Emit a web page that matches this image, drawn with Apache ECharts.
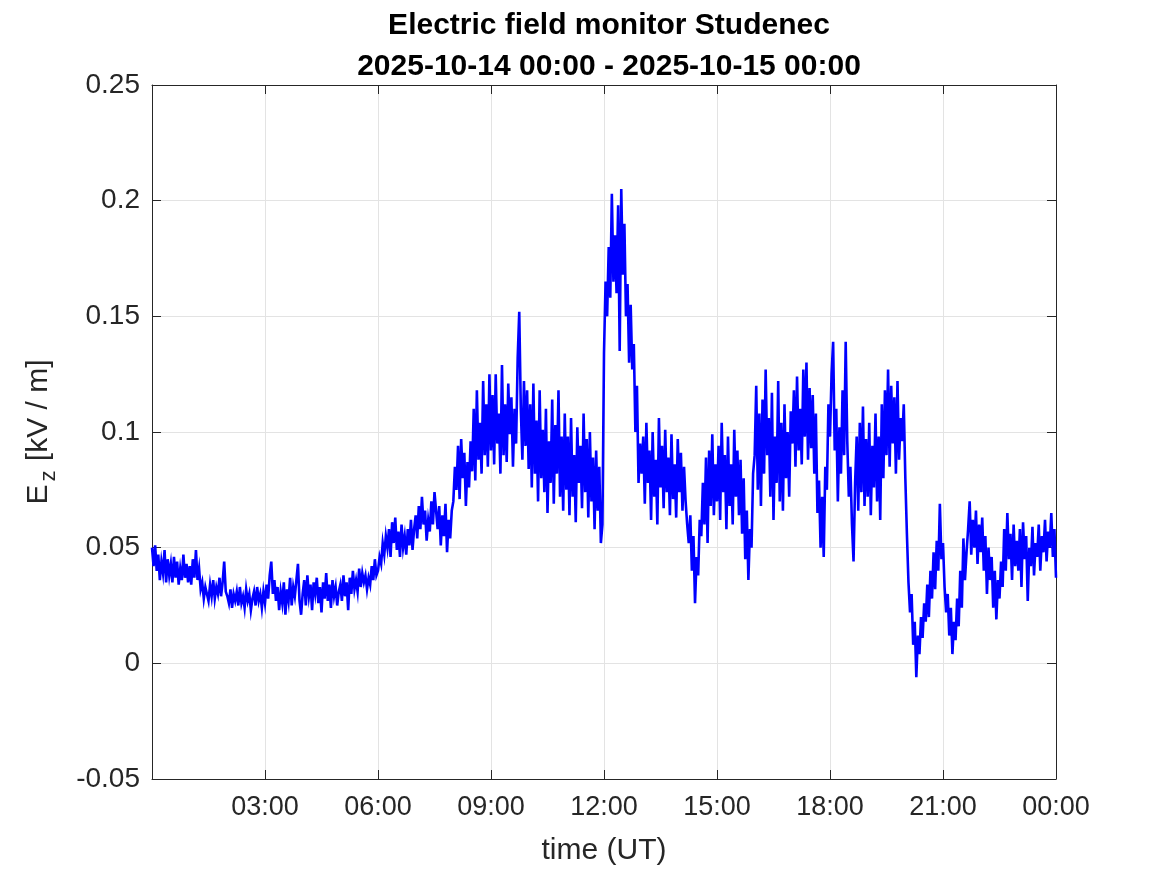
<!DOCTYPE html>
<html>
<head>
<meta charset="utf-8">
<script src="https://cdn.jsdelivr.net/npm/echarts@6/dist/echarts.min.js"></script>
<style>
html,body{margin:0;padding:0;background:#fff;}
#chart{width:1167px;height:875px;}
</style>
</head>
<body>
<div id="chart"></div>
<script>
// Ez [kV/m], 2.5-minute samples, 2025-10-14 00:00 UT to 2025-10-15 00:00 UT (one row = one hour)
var ez00to06 = [
0.050,0.042,0.051,0.040,0.047,0.036,0.044,0.039,0.049,0.035,0.045,0.038,0.043,0.035,0.046,0.037,0.044,0.034,0.041,0.036,0.047,0.037,0.043,0.035,
0.042,0.034,0.045,0.037,0.049,0.036,0.041,0.032,0.035,0.028,0.033,0.030,0.027,0.034,0.029,0.036,0.028,0.033,0.030,0.037,0.029,0.035,0.044,0.031,
0.029,0.026,0.032,0.024,0.030,0.027,0.031,0.025,0.033,0.026,0.029,0.024,0.032,0.027,0.030,0.023,0.028,0.031,0.025,0.033,0.027,0.030,0.024,0.031,
0.026,0.034,0.028,0.038,0.044,0.030,0.036,0.027,0.033,0.023,0.031,0.026,0.035,0.021,0.032,0.027,0.037,0.025,0.033,0.029,0.036,0.043,0.027,0.021,
0.030,0.036,0.025,0.038,0.029,0.034,0.023,0.035,0.030,0.037,0.026,0.033,0.022,0.035,0.028,0.039,0.027,0.034,0.024,0.036,0.029,0.033,0.025,0.031,
0.034,0.027,0.038,0.029,0.035,0.023,0.037,0.030,0.040,0.032,0.036,0.031,0.041,0.033,0.039,0.035,0.038,0.032,0.037,0.034,0.042,0.036,0.045,0.038
];
var ez06to12 = [
0.040,0.046,0.043,0.052,0.047,0.055,0.050,0.058,0.046,0.061,0.052,0.063,0.049,0.057,0.046,0.060,0.050,0.055,0.047,0.058,0.051,0.062,0.049,0.058,
0.064,0.054,0.068,0.058,0.072,0.060,0.066,0.053,0.062,0.057,0.070,0.060,0.074,0.066,0.058,0.068,0.051,0.064,0.055,0.069,0.048,0.062,0.054,0.066,
0.070,0.085,0.075,0.094,0.071,0.097,0.080,0.091,0.068,0.087,0.076,0.096,0.083,0.110,0.079,0.118,0.088,0.104,0.082,0.122,0.090,0.112,0.085,0.125,
0.092,0.116,0.086,0.125,0.095,0.108,0.082,0.129,0.090,0.112,0.087,0.121,0.099,0.115,0.085,0.110,0.095,0.132,0.152,0.110,0.088,0.122,0.094,0.118,
0.084,0.112,0.076,0.121,0.082,0.105,0.070,0.118,0.080,0.101,0.074,0.110,0.065,0.096,0.078,0.114,0.069,0.103,0.082,0.118,0.072,0.098,0.066,0.108,
0.075,0.098,0.064,0.106,0.072,0.090,0.061,0.102,0.078,0.094,0.067,0.108,0.074,0.097,0.063,0.100,0.070,0.089,0.058,0.092,0.066,0.085,0.052,0.060
];
var ez12to18 = [
0.134,0.165,0.150,0.180,0.158,0.203,0.165,0.185,0.160,0.198,0.135,0.205,0.168,0.190,0.150,0.164,0.130,0.155,0.127,0.138,0.100,0.120,0.078,0.095,
0.082,0.098,0.069,0.104,0.078,0.092,0.062,0.100,0.072,0.088,0.060,0.106,0.076,0.094,0.067,0.101,0.074,0.089,0.064,0.099,0.071,0.086,0.063,0.097,
0.074,0.091,0.066,0.085,0.070,0.060,0.052,0.064,0.040,0.055,0.026,0.046,0.038,0.062,0.055,0.078,0.060,0.089,0.052,0.092,0.068,0.099,0.064,0.086,
0.070,0.094,0.062,0.104,0.074,0.090,0.058,0.098,0.068,0.086,0.060,0.101,0.072,0.092,0.064,0.088,0.056,0.080,0.045,0.066,0.036,0.058,0.050,0.082,
0.090,0.120,0.075,0.108,0.068,0.114,0.082,0.127,0.090,0.106,0.072,0.117,0.062,0.098,0.078,0.122,0.070,0.104,0.066,0.112,0.080,0.100,0.072,0.109,
0.095,0.118,0.085,0.124,0.092,0.110,0.086,0.127,0.098,0.130,0.088,0.119,0.093,0.116,0.082,0.108,0.065,0.079,0.050,0.072,0.046,0.085,0.075,0.112
];
var ez18to24 = [
0.098,0.125,0.139,0.092,0.110,0.070,0.102,0.082,0.118,0.090,0.139,0.096,0.072,0.085,0.060,0.044,0.078,0.098,0.066,0.104,0.074,0.111,0.068,0.097,
0.072,0.104,0.064,0.094,0.076,0.108,0.070,0.098,0.062,0.112,0.080,0.118,0.090,0.127,0.085,0.120,0.095,0.115,0.082,0.122,0.088,0.106,0.096,0.112,
0.080,0.056,0.035,0.022,0.030,0.008,0.018,-0.006,0.012,0.004,0.020,0.011,0.026,0.018,0.034,0.020,0.040,0.028,0.048,0.032,0.053,0.040,0.069,0.045,
0.052,0.033,0.022,0.030,0.012,0.024,0.004,0.018,0.010,0.028,0.016,0.040,0.024,0.054,0.036,0.048,0.058,0.070,0.047,0.062,0.050,0.066,0.043,0.060,
0.048,0.063,0.040,0.055,0.030,0.050,0.036,0.046,0.024,0.040,0.019,0.036,0.028,0.044,0.033,0.058,0.040,0.065,0.045,0.056,0.036,0.060,0.042,0.053,
0.040,0.058,0.033,0.061,0.045,0.055,0.027,0.050,0.042,0.059,0.038,0.052,0.046,0.060,0.040,0.055,0.048,0.062,0.044,0.057,0.050,0.065,0.046,0.058,
0.037
];
var xTickLabels = ['', '03:00', '06:00', '09:00', '12:00', '15:00', '18:00', '21:00', '00:00'];
var yTickValues = [-0.05, 0, 0.05, 0.1, 0.15, 0.2, 0.25];
var titleText = 'Electric field monitor Studenec\n2025-10-14 00:00 - 2025-10-15 00:00';

var ezAll = ez00to06.concat(ez06to12, ez12to18, ez18to24);
var stepHours = 24 / (ezAll.length - 1);
var seriesData = ezAll.map(function (v, i) { return [i * stepHours, v]; });

var axisColor = '#262626';
var gridColor = '#e3e3e3';
var font = 'Liberation Sans, Arial, Helvetica, sans-serif';

var chart = echarts.init(document.getElementById('chart'), null, {renderer: 'canvas'});
chart.setOption({
  animation: false,
  backgroundColor: '#ffffff',
  title: {
    text: titleText,
    left: 604,
    top: 0,
    textAlign: 'center',
    textStyle: {fontFamily: font, fontSize: 30, fontWeight: 'bold', color: '#000', lineHeight: 41}
  },
  grid: {left: 152, right: 111, top: 85, bottom: 96, containLabel: false},
  xAxis: [{
    type: 'value', min: 0, max: 24, interval: 3, position: 'bottom',
    axisLine: {show: true, onZero: false, lineStyle: {color: axisColor, width: 1}},
    axisTick: {show: true, inside: true, length: 9, lineStyle: {color: axisColor}},
    axisLabel: {
      margin: 15, color: axisColor, fontFamily: font, fontSize: 27,
      formatter: function (v) { return xTickLabels[Math.round(v / 3)]; }
    },
    splitLine: {show: true, lineStyle: {color: gridColor, width: 1}},
    name: 'time (UT)', nameLocation: 'middle', nameGap: 57,
    nameTextStyle: {color: axisColor, fontFamily: font, fontSize: 30}
  }, {
    type: 'value', min: 0, max: 24, interval: 3, position: 'top',
    axisLine: {show: true, onZero: false, lineStyle: {color: axisColor, width: 1}},
    axisTick: {show: true, inside: true, length: 9, lineStyle: {color: axisColor}},
    axisLabel: {show: false}, splitLine: {show: false}
  }],
  yAxis: [{
    type: 'value', min: -0.05, max: 0.25, interval: 0.05, position: 'left',
    axisLine: {show: true, onZero: false, lineStyle: {color: axisColor, width: 1}},
    axisTick: {show: true, inside: true, length: 9, lineStyle: {color: axisColor}},
    axisLabel: {
      margin: 12, color: axisColor, fontFamily: font, fontSize: 28,
      formatter: function (v) {
        var best = yTickValues.reduce(function (a, b) { return Math.abs(b - v) < Math.abs(a - v) ? b : a; });
        return String(best);
      }
    },
    splitLine: {show: true, lineStyle: {color: gridColor, width: 1}},
    name: '{e|E}{s|z}{e| [kV / m]}', nameLocation: 'middle', nameGap: 92, nameRotate: 90,
    nameTextStyle: {
      color: axisColor, fontFamily: font, fontSize: 30,
      rich: {
        e: {fontFamily: font, fontSize: 30, color: axisColor},
        s: {fontFamily: font, fontSize: 22, color: axisColor, padding: [20, 1, 0, 3]}
      }
    }
  }, {
    type: 'value', min: -0.05, max: 0.25, interval: 0.05, position: 'right',
    axisLine: {show: true, onZero: false, lineStyle: {color: axisColor, width: 1}},
    axisTick: {show: true, inside: true, length: 9, lineStyle: {color: axisColor}},
    axisLabel: {show: false}, splitLine: {show: false}
  }],
  series: [{
    type: 'line', xAxisIndex: 0, yAxisIndex: 0,
    data: seriesData, showSymbol: false, symbol: 'none', sampling: null,
    lineStyle: {color: '#0000ff', width: 2.6, join: 'miter'},
    z: 5
  }]
});
</script>
</body>
</html>
